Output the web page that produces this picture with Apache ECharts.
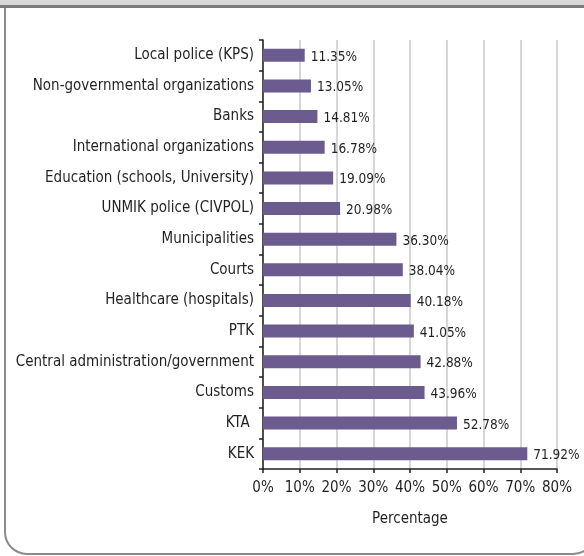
<!DOCTYPE html>
<html>
<head>
<meta charset="utf-8">
<script src="https://cdn.jsdelivr.net/npm/echarts@6/dist/echarts.min.js"></script>
<style>
html,body{margin:0;padding:0;background:#fff;}
#c{width:584px;height:556px;}
</style>
</head>
<body>
<div id="c"></div>
<script>
const categories = [
  "Local police (KPS)",
  "Non-governmental organizations",
  "Banks",
  "International organizations",
  "Education (schools, University)",
  "UNMIK police (CIVPOL)",
  "Municipalities",
  "Courts",
  "Healthcare (hospitals)",
  "PTK",
  "Central administration/government",
  "Customs",
  "KTA ",
  "KEK"
];
const values = [11.35, 13.05, 14.81, 16.78, 19.09, 20.98, 36.30, 38.04, 40.18, 41.05, 42.88, 43.96, 52.78, 71.92];
const xTicks = [0, 10, 20, 30, 40, 50, 60, 70, 80];
const xTitle = "Percentage";

const FONT = '"Liberation Sans Narrow", "DejaVu Sans Condensed", "Noto Sans", sans-serif';
const chart = echarts.init(document.getElementById('c'), null, {renderer: 'canvas'});
chart.setOption({
  animation: false,
  backgroundColor: '#ffffff',
  textStyle: {fontFamily: FONT},
  graphic: [
    {type: 'rect', z: 0, shape: {x: 5, y: -30, width: 590, height: 584, r: [0, 0, 22, 22]},
     style: {fill: 'none', stroke: '#8a8a8a', lineWidth: 2}},
    {type: 'rect', z: 1, shape: {x: 0, y: 0, width: 584, height: 5}, style: {fill: '#d9d9db'}},
    {type: 'line', z: 2, shape: {x1: 0, y1: 6.5, x2: 584, y2: 6.5}, style: {stroke: '#7d7d7d', lineWidth: 3}}
  ],
  grid: {left: 263, right: 27, top: 40, bottom: 87, containLabel: false},
  xAxis: {
    type: 'value', min: xTicks[0], max: xTicks[xTicks.length - 1], interval: 10,
    name: xTitle, nameLocation: 'middle', nameGap: 43,
    nameTextStyle: {fontFamily: FONT, fontSize: 15, color: '#231f20'},
    axisLine: {show: true, lineStyle: {color: '#231f20', width: 1.5}},
    axisTick: {show: true, length: 4, lineStyle: {color: '#231f20', width: 1.5}},
    axisLabel: {fontFamily: FONT, fontSize: 15, color: '#231f20', margin: 12, formatter: v => v + '%'},
    splitLine: {show: true, lineStyle: {color: '#c8c8c8', width: 1.5}}
  },
  yAxis: {
    type: 'category', data: categories, inverse: true,
    axisLine: {show: true, lineStyle: {color: '#231f20', width: 1.5}},
    axisTick: {show: true, length: 4, lineStyle: {color: '#231f20', width: 1.5}},
    axisLabel: {fontFamily: FONT, fontSize: 15, color: '#231f20', margin: 9},
    splitLine: {show: false}
  },
  series: [{
    type: 'bar', data: values, barWidth: 13,
    itemStyle: {color: '#6b5b8e'},
    label: {show: true, position: 'right', distance: 6, fontFamily: FONT, fontSize: 13.5, color: '#231f20',
      offset: [0, 2],
      formatter: p => p.value.toFixed(2) + '%'}
  }]
});
</script>
</body>
</html>
